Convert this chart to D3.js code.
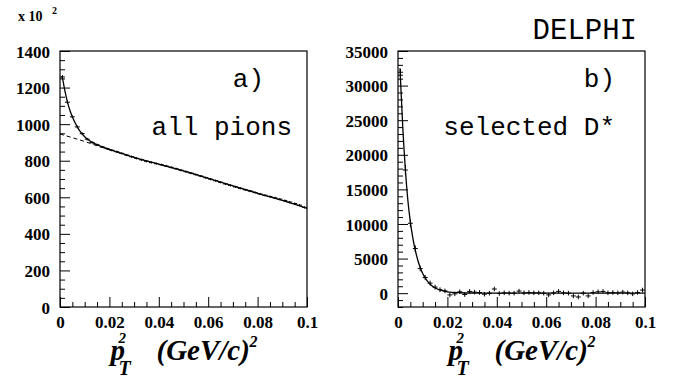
<!DOCTYPE html>
<html>
<head>
<meta charset="utf-8">
<script src="https://cdn.jsdelivr.net/npm/d3@7/dist/d3.min.js"></script>
<style>
  html, body { margin: 0; padding: 0; background: #fff; }
  svg { display: block; }
  .num { font-family: "Liberation Serif", "DejaVu Serif", serif; font-weight: bold; fill: #000; }
  .mono { font-family: "Liberation Mono", "DejaVu Sans Mono", monospace; fill: #000; }
</style>
</head>
<body>
<svg id="chart" width="673" height="379"></svg>
<script>
// Bin centres (GeV/c)^2, 50 bins of width 0.002
const binCenters = d3.range(50).map(i => +(0.001 + 0.002 * i).toFixed(3));
const binHalfWidth = 0.001;

// a) all pions, entries (x 10^2)
const allPions = [1258, 1120, 1040, 985, 948, 918, 900, 887, 876, 866,
                  857, 849, 840, 831, 822, 813, 805, 797, 790, 784,
                  778, 771, 764, 756, 748, 740, 732, 724, 716, 707,
                  699, 691, 682, 673, 665, 657, 649, 641, 634, 626,
                  618, 611, 604, 597, 590, 582, 574, 566, 557, 545];
const allPionsErr = [10, 9, 8, 8, 7, 7, 7, 6, 6, 6,
                     6, 6, 6, 6, 6, 6, 6, 6, 6, 6,
                     6, 6, 6, 6, 6, 6, 6, 6, 6, 6,
                     6, 6, 6, 6, 6, 6, 6, 6, 6, 6,
                     6, 6, 6, 6, 6, 6, 6, 6, 6, 6];
// a) fit: total and background component
const fitAx = [0.0007, 0.001, 0.002, 0.003, 0.004, 0.005, 0.006, 0.007, 0.008, 0.009, 0.010,
               0.012, 0.014, 0.016, 0.018, 0.020, 0.025, 0.030, 0.040, 0.050, 0.060,
               0.070, 0.080, 0.090, 0.100];
const fitAy = [1262, 1250, 1180, 1122, 1076, 1040, 1010, 985, 963, 946, 931,
               909, 894, 882, 871, 862, 840, 818, 781, 744, 704,
               662, 622, 583, 540];
const bkgAx = [0.0, 0.005, 0.010, 0.015, 0.020];
const bkgAy = [946, 926, 905, 882, 860];

// b) selected D*, entries
const selectedDstar = [31500, 17800, 10100, 6450, 3550, 2260, 1450, 870, 500, 330,
                       -250, -100, 200, -200, 250, 150, 100, -150, 0, 600,
                       -50, 50, 0, 0, 300, 50, 100, 50, 50, 0,
                       -250, 50, 250, 50, 0, -400, -550, 0, -400, 100,
                       200, 250, 50, 100, 50, 150, 50, -100, 100, 450];
const selectedDstarErr = [900, 700, 550, 450, 400, 380, 360, 350, 340, 330,
                          330, 330, 330, 330, 330, 330, 330, 330, 330, 330,
                          330, 330, 330, 330, 330, 330, 330, 330, 330, 330,
                          330, 330, 330, 330, 330, 330, 330, 330, 330, 330,
                          330, 330, 330, 330, 330, 330, 330, 330, 330, 330];
const fitBx = [0.0008, 0.001, 0.002, 0.003, 0.004, 0.005, 0.006, 0.007, 0.008, 0.009, 0.010,
               0.011, 0.012, 0.013, 0.014, 0.015, 0.016, 0.017, 0.018, 0.019, 0.020,
               0.022, 0.025, 0.030, 0.040, 0.100];
const fitBy = [32500, 31000, 23500, 17800, 13400, 10300, 8000, 6200, 4800, 3700, 2850,
               2200, 1700, 1300, 1000, 780, 600, 460, 350, 270, 200,
               120, 60, 20, 0, 0];

// Axis tick values
const xMajorTicks = [0, 0.02, 0.04, 0.06, 0.08, 0.1];
const xTickLabels = ["0", "0.02", "0.04", "0.06", "0.08", "0.1"];
const yMajorA = [0, 200, 400, 600, 800, 1000, 1200, 1400];
const yMajorB = [0, 5000, 10000, 15000, 20000, 25000, 30000, 35000];

const svg = d3.select("#chart");

function panel(opts) {
  const g = svg.append("g");
  const x = d3.scaleLinear().domain([0, 0.1]).range([opts.left, opts.right]);
  const y = d3.scaleLinear().domain(opts.yDomain).range([opts.bottom, opts.top]);

  // minor ticks
  const xMinor = d3.range(0, 0.1001, 0.005).filter(v => Math.abs(v / 0.02 - Math.round(v / 0.02)) > 1e-6);
  g.append("g").attr("transform", `translate(0,${opts.bottom})`)
    .call(d3.axisBottom(x).tickValues(xMinor).tickSize(-5).tickFormat(""))
    .call(a => a.select(".domain").remove());
  g.append("g").attr("transform", `translate(${opts.left},0)`)
    .call(d3.axisLeft(y).tickValues(opts.yMinor).tickSize(-5).tickFormat(""))
    .call(a => a.select(".domain").remove());

  // major ticks with labels
  g.append("g").attr("transform", `translate(0,${opts.bottom})`)
    .call(d3.axisBottom(x).tickValues(xMajorTicks).tickSize(-10).tickPadding(8)
      .tickFormat((d, i) => xTickLabels[i]))
    .call(a => a.select(".domain").remove())
    .call(a => a.selectAll("text").attr("class", "num").attr("font-size", 17).attr("dy", "0.71em").attr("y", 9));
  g.append("g").attr("transform", `translate(${opts.left},0)`)
    .call(d3.axisLeft(y).tickValues(opts.yMajor).tickSize(-10).tickPadding(10).tickFormat(d3.format("d")))
    .call(a => a.select(".domain").remove())
    .call(a => a.selectAll("text").attr("class", "num").attr("font-size", 17).attr("dy", "0.36em"));

  g.selectAll(".tick line").attr("stroke", "#000").attr("stroke-width", 1);
  g.selectAll(".tick text").attr("fill", "#000").attr("font-family", null);

  // data crosses
  const pts = g.append("g").attr("stroke", "#000").attr("stroke-width", 1);
  opts.values.forEach((v, i) => {
    const cx = x(binCenters[i]);
    pts.append("line").attr("x1", x(binCenters[i] - binHalfWidth)).attr("x2", x(binCenters[i] + binHalfWidth))
      .attr("y1", y(v)).attr("y2", y(v));
    pts.append("line").attr("x1", cx).attr("x2", cx)
      .attr("y1", y(v - opts.errors[i])).attr("y2", y(v + opts.errors[i]));
  });

  // fitted curves
  const line = d3.line().x(d => x(d[0])).y(d => y(d[1])).curve(d3.curveMonotoneX);
  if (opts.bkgX) {
    g.append("path").datum(opts.bkgX.map((v, i) => [v, opts.bkgY[i]]))
      .attr("d", line).attr("fill", "none").attr("stroke", "#000")
      .attr("stroke-width", 1).attr("stroke-dasharray", "4,3");
  }
  g.append("path").datum(opts.fitX.map((v, i) => [v, opts.fitY[i]]))
    .attr("d", line).attr("fill", "none").attr("stroke", "#000").attr("stroke-width", 1.3);

  // frame
  g.append("rect").attr("x", opts.left).attr("y", opts.top)
    .attr("width", opts.right - opts.left).attr("height", opts.bottom - opts.top)
    .attr("fill", "none").attr("stroke", "#000").attr("stroke-width", 1.2);

  // axis title: p_T^2 (GeV/c)^2, one text element with positioned tspans
  const cx = (opts.left + opts.right) / 2;
  const x0 = cx - 73;
  const t = g.append("text").attr("class", "num").attr("font-style", "italic");
  t.append("tspan").attr("x", x0).attr("y", 360).attr("font-size", 29).text("p");
  t.append("tspan").attr("x", x0 + 8).attr("y", 343).attr("font-size", 15).text("2");
  t.append("tspan").attr("x", x0 + 8).attr("y", 375).attr("font-size", 20).text("T");
  t.append("tspan").attr("x", x0 + 46).attr("y", 360).attr("font-size", 29).text("(GeV/c)");
  t.append("tspan").attr("x", x0 + 139).attr("y", 347).attr("font-size", 16).text("2");

  // panel labels
  opts.labels.forEach(l => {
    g.append("text").attr("class", "mono").attr("x", l.x).attr("y", l.y)
      .attr("font-size", 26).attr("text-anchor", "end").text(l.text);
  });
  return { x, y };
}

panel({
  left: 60, right: 307, top: 51, bottom: 307,
  yDomain: [0, 1400], yMajor: yMajorA,
  yMinor: d3.range(0, 1401, 50).filter(v => v % 200 !== 0),
  values: allPions, errors: allPionsErr,
  fitX: fitAx, fitY: fitAy, bkgX: bkgAx, bkgY: bkgAy,
  labels: [{ text: "a)", x: 264, y: 87 }, { text: "all pions", x: 292, y: 135 }]
});

panel({
  left: 398, right: 645, top: 51, bottom: 307,
  yDomain: [-2000, 35000], yMajor: yMajorB,
  yMinor: d3.range(-2000, 35001, 1000).filter(v => v % 5000 !== 0),
  values: selectedDstar, errors: selectedDstarErr,
  fitX: fitBx, fitY: fitBy,
  labels: [{ text: "b)", x: 615, y: 87 }, { text: "selected D*", x: 615, y: 135 }]
});

// multiplier for panel a and experiment name
svg.append("text").attr("class", "num").attr("x", 18).attr("y", 21).attr("font-size", 14).text("x 10");
svg.append("text").attr("class", "num").attr("x", 52).attr("y", 14).attr("font-size", 10).text("2");
svg.append("text").attr("class", "mono").attr("x", 637).attr("y", 39).attr("font-size", 29)
  .attr("text-anchor", "end").text("DELPHI");
</script>
</body>
</html>
